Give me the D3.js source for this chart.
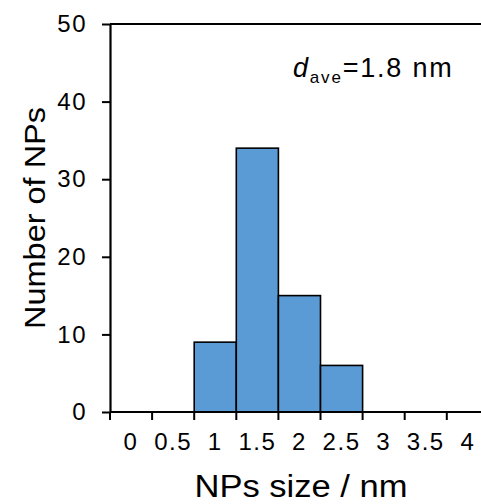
<!DOCTYPE html>
<html>
<head>
<meta charset="utf-8">
<script src="https://cdn.jsdelivr.net/npm/d3@7"></script>
<style>
  html, body { margin: 0; padding: 0; background: #fff; }
  svg { display: block; }
  text { font-family: "Liberation Sans", Arial, sans-serif; fill: #000; }
</style>
</head>
<body>
<script>
const categories = ["0", "0.5", "1", "1.5", "2", "2.5", "3", "3.5", "4"];
const counts = [0, 0, 9, 34, 15, 6, 0, 0, 0];
const yTicks = [0, 10, 20, 30, 40, 50];
const xTitle = "NPs size / nm";
const yTitle = "Number of NPs";

const W = 481, H = 504;
const svg = d3.select("body").append("svg").attr("width", W).attr("height", H);

const mLeft = 110, mTop = 24, mBottom = 412, band = 42.1;
const x = d3.scaleBand().domain(categories).range([mLeft, mLeft + band * categories.length]).padding(0);
const y = d3.scaleLinear().domain([0, 50]).range([mBottom, mTop]);

// top border
svg.append("line").attr("x1", mLeft).attr("x2", W + 10).attr("y1", y(50)).attr("y2", y(50))
  .attr("stroke", "#000").attr("stroke-width", 2.2);

// bars
svg.append("g").selectAll("rect").data(categories.map((c, i) => ({c, v: counts[i]})).filter(d => d.v > 0))
  .join("rect")
  .attr("x", d => x(d.c)).attr("width", x.bandwidth())
  .attr("y", d => y(d.v)).attr("height", d => y(0) - y(d.v))
  .attr("fill", "#5b9bd5").attr("stroke", "#000").attr("stroke-width", 1.6);

// y axis
const yAxis = d3.axisLeft(y).tickValues(yTicks).tickSize(8).tickPadding(15).tickSizeOuter(0);
const gy = svg.append("g").attr("transform", `translate(${mLeft},0)`).call(yAxis);
gy.attr("font-family", null).attr("font-size", null);
gy.select(".domain").attr("stroke-width", 2.2);
gy.selectAll(".tick line").attr("stroke-width", 2);
gy.selectAll(".tick text").attr("font-size", 24).attr("letter-spacing", 1.5);

// x axis: ticks at category boundaries, labels at centers
const gx = svg.append("g").attr("transform", `translate(0,${mBottom})`);
gx.append("line").attr("x1", mLeft).attr("x2", W + 10).attr("y1", 0).attr("y2", 0)
  .attr("stroke", "#000").attr("stroke-width", 2.2);
const bounds = categories.map(c => x(c)).concat([x.range()[1]]);
gx.selectAll(".xt").data(bounds).join("line").attr("class", "xt")
  .attr("x1", d => d).attr("x2", d => d).attr("y1", 0).attr("y2", 8)
  .attr("stroke", "#000").attr("stroke-width", 2);
gx.selectAll(".xl").data(categories).join("text").attr("class", "xl")
  .attr("x", d => x(d) + x.bandwidth() / 2).attr("y", 38)
  .attr("text-anchor", "middle").attr("font-size", 24).attr("letter-spacing", 1.5)
  .text(d => d);

// axis titles
svg.append("text").attr("x", 301).attr("y", 497).attr("text-anchor", "middle")
  .attr("font-size", 31).attr("textLength", 213).attr("lengthAdjust", "spacingAndGlyphs")
  .text(xTitle);
svg.append("text").attr("transform", `translate(45,${(mTop + mBottom) / 2}) rotate(-90)`)
  .attr("text-anchor", "middle").attr("font-size", 30).attr("textLength", 222).attr("lengthAdjust", "spacingAndGlyphs")
  .text(yTitle);

// annotation
const ann = svg.append("text").attr("x", 293).attr("y", 77).attr("font-size", 27).attr("letter-spacing", 1.8);
ann.append("tspan").attr("font-style", "italic").text("d");
ann.append("tspan").attr("font-size", 17).attr("dy", 6).text("ave");
ann.append("tspan").attr("dy", -6).text("=1.8 nm");
</script>
</body>
</html>
